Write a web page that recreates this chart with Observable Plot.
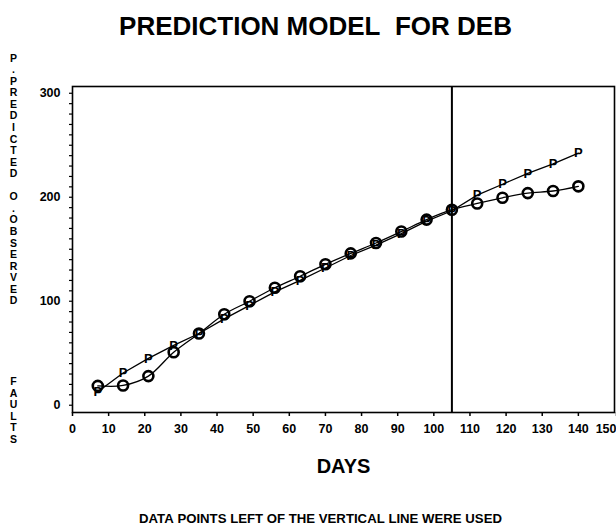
<!DOCTYPE html>
<html><head><meta charset="utf-8">
<script src="https://cdn.jsdelivr.net/npm/d3@7"></script>
<script src="https://cdn.jsdelivr.net/npm/@observablehq/plot@0.6"></script>
<style>
body{margin:0;background:#fff}
#chart svg{font-family:"Liberation Sans",Arial,sans-serif;}
</style>
</head><body><div id="chart"></div>
<script>
// ---- data ----
const days      = [7, 14, 21, 28, 35, 42, 49, 56, 63, 70, 77, 84, 91, 98, 105, 112, 119, 126, 133, 140];
const observed  = [18.6, 19, 28, 51, 69, 87.5, 100, 113, 124, 135.5, 146, 156, 167, 178.5, 188, 194, 199.5, 204, 206, 210.5];
const predicted = [13, 31, 45, 57.5, 69, 83, 96, 109, 120, 132, 144, 154, 165, 177, 187, 202, 212.5, 223, 232, 242.5];
const cutoffDay = 105;
const xTicks = [0, 10, 20, 30, 40, 50, 60, 70, 80, 90, 100, 110, 120, 130, 140];
const xLastTick = [150];
const yTicks = [0, 100, 200, 300];
const yMinorTicks = [0,10,20,30,40,50,60,70,80,90,100,110,120,130,140,150,160,170,180,190,200,210,220,230,240,250,260,270,280,290,300];
const title   = "PREDICTION MODEL  FOR DEB";
const xLabel  = "DAYS";
const yLabel  = "P.PREDICTED O.OBSERVED      FAULTS";
const caption = "DATA POINTS LEFT OF THE VERTICAL LINE WERE USED";

// ---- build tables ----
const obsData  = days.map((d, i) => ({day: d, value: observed[i]}));
const predData = days.map((d, i) => ({day: d, value: predicted[i]}));
const nb = s => s.replace(/ /g, "\u00a0");
const stacked = yLabel.split("").map(c => c === " " ? "\u00a0" : c).join("\n");

const plot = Plot.plot({
  width: 616,
  height: 528,
  marginLeft: 72,
  marginRight: 2,
  marginTop: 86,
  marginBottom: 116,
  x: {domain: [0, 150], axis: null},
  y: {domain: [-7, 306.5], axis: null},
  style: {background: "#fff", color: "#000", fontSize: "12.5px", fontWeight: "bold", fontFamily: "'Liberation Sans', Arial, sans-serif"},
  marks: [
    Plot.frame({stroke: "#000", strokeWidth: 1.6}),
    Plot.axisX({ticks: xTicks, tickSize: 4, tickPadding: 8, tickFormat: d => String(d), label: null, strokeWidth: 1.5, fontSize: 12.5, fontWeight: "bold"}),
    Plot.axisX({ticks: xLastTick, tickSize: 4, tickPadding: 8, tickFormat: d => String(d), label: null, strokeWidth: 1.5, fontSize: 12.5, fontWeight: "bold", textAnchor: "end", dx: 2}),
    Plot.axisY({ticks: yMinorTicks, tickSize: 3, tickPadding: 9, tickFormat: d => yTicks.includes(d) ? String(d) : "", label: null, strokeWidth: 1.2, fontSize: 12.5, fontWeight: "bold"}),
    Plot.ruleX([cutoffDay], {stroke: "#000", strokeWidth: 2}),
    Plot.line(predData, {x: "day", y: "value", stroke: "#000", strokeWidth: 1.3}),
    Plot.line(obsData, {x: "day", y: "value", stroke: "#000", strokeWidth: 1.3, curve: "catmull-rom"}),
    Plot.text(predData, {x: "day", y: "value", text: () => "P", fontSize: 13, fontWeight: "bold", fill: "#000"}),
    Plot.dot(obsData, {x: "day", y: "value", r: 5, stroke: "#000", strokeWidth: 2.6, fill: "none"}),
    // title
    Plot.text([nb(title)], {frameAnchor: "top", dx: -28, dy: -60, fontSize: 26, fontWeight: "bold", textAnchor: "middle", lineAnchor: "middle", fill: "#000"}),
    // stacked y label
    Plot.text([stacked], {frameAnchor: "top-left", dx: -59, dy: -33, fontSize: 10.5, fontWeight: "bold", textAnchor: "middle", lineAnchor: "top", lineHeight: 1.1, fill: "#000"}),
    // x label
    Plot.text([xLabel], {frameAnchor: "bottom", dx: 0, dy: 54, fontSize: 20, fontWeight: "bold", textAnchor: "middle", lineAnchor: "middle", fill: "#000"}),
    // caption
    Plot.text([nb(caption)], {frameAnchor: "bottom", dx: -23, dy: 106, fontSize: 13.2, fontWeight: "bold", textAnchor: "middle", lineAnchor: "middle", fill: "#000"})
  ]
});
document.getElementById("chart").appendChild(plot);
</script>
</body></html>
